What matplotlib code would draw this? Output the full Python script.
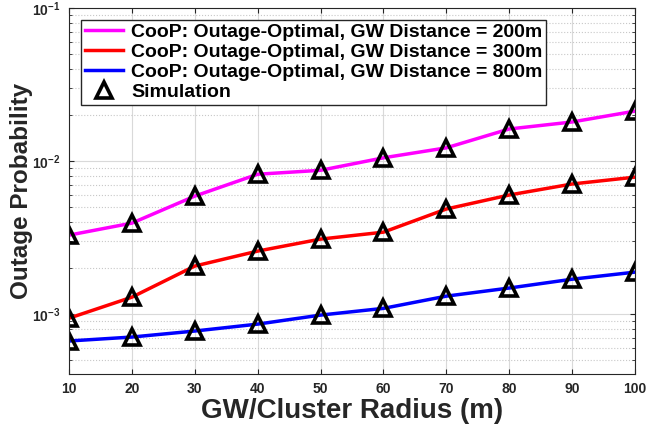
import numpy as np
from matplotlib import pyplot as plt

plt.rcParams['font.family'] = ['Liberation Sans', 'DejaVu Sans']
plt.rcParams['font.weight'] = 'bold'
plt.rcParams['mathtext.default'] = 'bf'

# data
radius = [10, 20, 30, 40, 50, 60, 70, 80, 90, 100]
p_200 = [3.28e-3, 3.93e-3, 5.9e-3, 8.2e-3, 8.7e-3, 1.05e-2, 1.22e-2, 1.62e-2, 1.8e-2, 2.12e-2]
p_300 = [9.4e-4, 1.29e-3, 2.06e-3, 2.58e-3, 3.09e-3, 3.43e-3, 4.86e-3, 6.0e-3, 7.08e-3, 7.85e-3]
p_800 = [6.67e-4, 7.08e-4, 7.75e-4, 8.6e-4, 9.85e-4, 1.09e-3, 1.31e-3, 1.48e-3, 1.69e-3, 1.88e-3]
labels = ['CooP: Outage-Optimal, GW Distance = 200m',
          'CooP: Outage-Optimal, GW Distance = 300m',
          'CooP: Outage-Optimal, GW Distance = 800m']
colors = ['#ff00ff', '#ff0000', '#0000ff']

fig = plt.figure(figsize=(6.48, 4.28), dpi=100)
ax = fig.add_axes([69 / 648, 54 / 428, 566 / 648, 366 / 428])

for y, lab, c in zip([p_200, p_300, p_800], labels, colors):
    ax.semilogy(radius, y, '-', color=c, linewidth=2.5, label=lab)
for i, y in enumerate([p_200, p_300, p_800]):
    ax.semilogy(radius, y, '^', color='k', mfc='none', mew=2.6, ms=11,
                label='Simulation' if i == 0 else None)

ax.set_xlim(10, 100)
ax.set_ylim(4.06e-4, 1e-1)
ax.set_xticks(radius)
ax.grid(True, which='major', color='#d9d9d9', linewidth=0.8)
ax.grid(True, which='minor', axis='y', color='#c8c8c8', linestyle=':', linewidth=0.8)
ax.tick_params(which='both', direction='in', top=True, right=True, colors='#262626',
               labelsize=10, pad=6)
for s in ax.spines.values():
    s.set_color('#262626')
ax.set_xlabel('GW/Cluster Radius (m)', fontsize=20, fontweight='bold', color='#262626',
              labelpad=1)
ax.set_ylabel('Outage Probability', fontsize=17.5, fontweight='bold', color='#262626')
ax.yaxis.set_label_coords(-0.063, 0.5)

leg = ax.legend(loc='upper left', fontsize=14, fancybox=False, framealpha=1,
                edgecolor='#262626', borderaxespad=0.6, handlelength=2.0,
                labelspacing=0.12, borderpad=0.2, handletextpad=0.4)
leg.get_frame().set_linewidth(1.0)

plt.savefig('out.png', dpi=100)
